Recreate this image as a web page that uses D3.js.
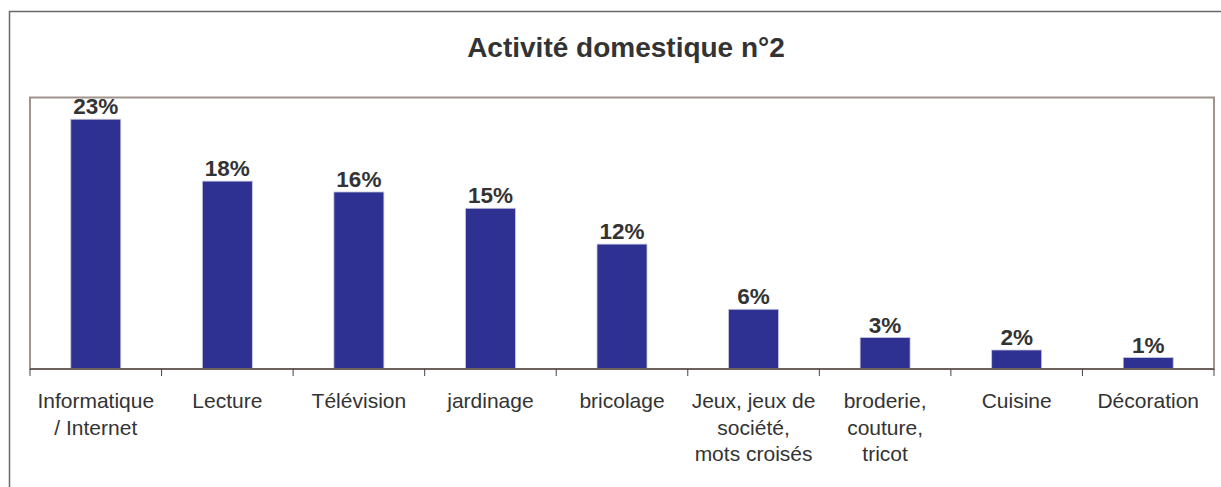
<!DOCTYPE html>
<html>
<head>
<meta charset="utf-8">
<script src="https://cdn.jsdelivr.net/npm/d3@7"></script>
<style>
  body { margin: 0; background: #fff; }
  svg { display: block; font-family: "Liberation Sans", Arial, sans-serif; }
</style>
</head>
<body>
<div id="chart"></div>
<script>
var title = "Activité domestique n°2";

var categories = [
  ["Informatique", "/ Internet"],
  ["Lecture"],
  ["Télévision"],
  ["jardinage"],
  ["bricolage"],
  ["Jeux, jeux de", "société,", "mots croisés"],
  ["broderie,", "couture,", "tricot"],
  ["Cuisine"],
  ["Décoration"]
];
var values = [23.0, 17.3, 16.3, 14.8, 11.5, 5.5, 2.9, 1.75, 1.05];
var valueLabels = ["23%", "18%", "16%", "15%", "12%", "6%", "3%", "2%", "1%"];

var width = 1221,
    height = 487;

var plotL = 30, plotR = 1214, plotT = 97.5, plotB = 369;

var svg = d3.select("#chart").append("svg")
    .attr("width", width)
    .attr("height", height);

// outer frame (runs off the right and bottom edge)
svg.append("rect")
    .attr("x", 9.5).attr("y", 11.5)
    .attr("width", 1230).attr("height", 500)
    .attr("fill", "none")
    .attr("stroke", "#6a6a6a")
    .attr("stroke-width", 1.5);

svg.append("text")
    .attr("x", 626).attr("y", 57)
    .attr("text-anchor", "middle")
    .attr("font-size", 28)
    .attr("font-weight", "bold")
    .attr("fill", "#333")
    .text(title);

var idx = d3.range(categories.length);

var x = d3.scaleBand()
    .domain(idx)
    .range([plotL, plotR])
    .paddingInner(0.62)
    .paddingOuter(0.31);

var y = d3.scaleLinear()
    .domain([0, 25])
    .range([plotB, plotT]);

// plot area box
svg.append("rect")
    .attr("x", plotL).attr("y", plotT)
    .attr("width", plotR - plotL).attr("height", plotB - plotT)
    .attr("fill", "none")
    .attr("stroke", "#a0938e")
    .attr("stroke-width", 2);

svg.selectAll("rect.bar")
    .data(values)
  .enter().append("rect")
    .attr("class", "bar")
    .attr("x", function(d, i) { return x(i); })
    .attr("y", function(d) { return y(d); })
    .attr("width", x.bandwidth())
    .attr("height", function(d) { return y(0) - y(d); })
    .attr("fill", "#2e3192")
    .attr("stroke", "#c9c9dc")
    .attr("stroke-width", 0.8);

svg.selectAll("text.val")
    .data(values)
  .enter().append("text")
    .attr("class", "val")
    .attr("x", function(d, i) { return x(i) + x.bandwidth() / 2; })
    .attr("y", function(d) { return y(d) - 5; })
    .attr("text-anchor", "middle")
    .attr("font-size", 22.5)
    .attr("font-weight", "bold")
    .attr("fill", "#333")
    .text(function(d, i) { return valueLabels[i]; });

// x axis line + ticks at category boundaries
svg.append("line")
    .attr("x1", plotL).attr("x2", plotR)
    .attr("y1", plotB).attr("y2", plotB)
    .attr("stroke", "#6e605b")
    .attr("stroke-width", 2);

var step = x.step();
svg.selectAll("line.tick")
    .data(d3.range(categories.length + 1))
  .enter().append("line")
    .attr("class", "tick")
    .attr("x1", function(i) { return plotL + i * step; })
    .attr("x2", function(i) { return plotL + i * step; })
    .attr("y1", plotB).attr("y2", plotB + 7)
    .attr("stroke", "#444")
    .attr("stroke-width", 1);

var cat = svg.selectAll("text.cat")
    .data(categories)
  .enter().append("text")
    .attr("class", "cat")
    .attr("text-anchor", "middle")
    .attr("font-size", 21)
    .attr("fill", "#333");

cat.selectAll("tspan")
    .data(function(d, i) { return d.map(function(s) { return { s: s, i: i }; }); })
  .enter().append("tspan")
    .attr("x", function(d) { return x(d.i) + x.bandwidth() / 2; })
    .attr("y", function(d, j) { return 408 + j * 26.5; })
    .text(function(d) { return d.s; });
</script>
</body>
</html>
